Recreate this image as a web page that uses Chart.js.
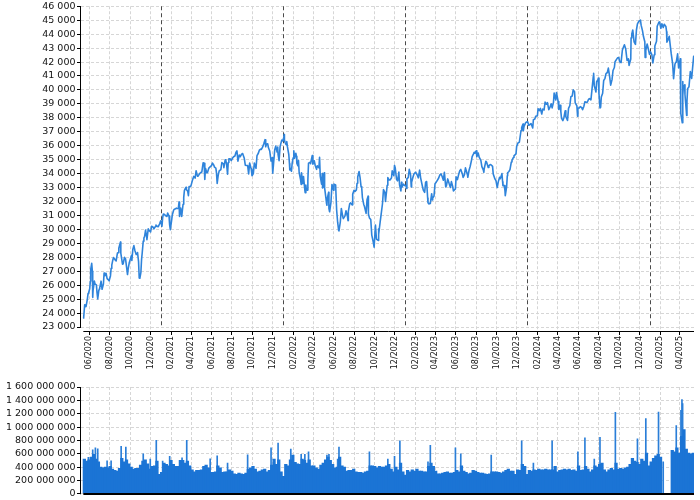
<!DOCTYPE html>
<html><head><meta charset="utf-8">
<script src="https://cdn.jsdelivr.net/npm/chart.js@4.4.1/dist/chart.umd.min.js"></script>
<style>
html,body{margin:0;padding:0;background:#fff;}
#wrap{position:relative;width:700px;height:500px;}
#c1{position:absolute;left:0;top:0;}
#c2{position:absolute;left:0;top:375px;}
</style></head><body>
<div id="wrap">
<canvas id="c1" width="700" height="375"></canvas>
<canvas id="c2" width="700" height="125"></canvas>
</div>
<script>
// ---- price closes by year: [MM-DD, close] ----
const dow2020 = [
['05-14',23625],['05-15',23685],['05-18',24597],['05-20',24576],['05-22',24465],['05-26',24995],['05-28',25400],['05-29',25383],
['06-02',25742],['06-04',26281],['06-05',27111],['06-08',27572],['06-10',26990],['06-11',25128],['06-12',25606],['06-16',26290],['06-18',26080],['06-22',26025],['06-24',25445],['06-26',25016],['06-29',25596],
['07-01',25734],['07-02',25827],['07-06',26287],['07-09',25706],['07-13',26086],['07-15',26870],['07-17',26672],['07-21',26840],['07-24',26470],['07-28',26379],['07-30',26313],
['08-03',26664],['08-05',27202],['08-07',27433],['08-10',27791],['08-12',27977],['08-14',27931],['08-18',27778],['08-20',27739],['08-24',28308],['08-26',28332],['08-28',28654],
['09-02',29100],['09-03',28292],['09-08',27501],['09-10',27534],['09-14',27993],['09-17',27902],['09-21',27148],['09-23',26763],['09-25',27174],['09-28',27584],
['10-01',27817],['10-05',28149],['10-06',27773],['10-09',28587],['10-12',28838],['10-15',28494],['10-19',28195],['10-21',28211],['10-23',28336],['10-26',27685],['10-28',26520],['10-30',26502],
['11-02',26925],['11-04',27847],['11-06',28323],['11-09',29158],['11-11',29398],['11-13',29480],['11-16',29950],['11-19',29483],['11-20',29263],['11-24',30046],['11-27',29910],
['12-01',29823],['12-04',30218],['12-08',30174],['12-11',30046],['12-15',30199],['12-17',30303],['12-21',30216],['12-24',30199],['12-28',30404],['12-31',30606]
];
const dow2021 = [
['01-04',30223],['01-06',30829],['01-08',31098],['01-12',31068],['01-14',30991],['01-19',30930],['01-21',31176],['01-25',30960],['01-27',30303],['01-29',29983],
['02-02',30687],['02-04',31055],['02-08',31385],['02-10',31438],['02-12',31458],['02-16',31523],['02-18',31493],['02-22',31522],['02-24',31962],['02-25',31402],['02-26',30932],
['03-01',31535],['03-04',30924],['03-08',31802],['03-10',32298],['03-12',32779],['03-15',32953],['03-17',33015],['03-18',32862],['03-22',32731],['03-24',32420],['03-26',33072],['03-30',33067],
['04-01',33153],['04-05',33527],['04-09',33801],['04-13',33677],['04-16',34200],['04-20',33821],['04-22',33815],['04-26',33981],['04-29',34060],
['05-03',34113],['05-07',34778],['05-10',34743],['05-12',33587],['05-14',34382],['05-18',34060],['05-20',34084],['05-24',34393],['05-27',34465],
['06-01',34575],['06-04',34756],['06-08',34599],['06-10',34466],['06-14',34393],['06-16',34033],['06-18',33290],['06-21',33876],['06-24',34196],['06-29',34292],
['07-02',34786],['07-07',34681],['07-08',34421],['07-12',34996],['07-14',34933],['07-16',34687],['07-19',33962],['07-21',34798],['07-23',35061],['07-27',35058],['07-30',34935],
['08-03',35116],['08-06',35209],['08-10',35264],['08-13',35515],['08-16',35625],['08-19',34894],['08-23',35336],['08-26',35213],['08-30',35399],
['09-02',35443],['09-07',35100],['09-10',34607],['09-14',34577],['09-17',34584],['09-20',33970],['09-23',34764],['09-28',34300],['09-30',33844],
['10-04',34002],['10-07',34754],['10-12',34378],['10-15',35295],['10-19',35458],['10-22',35677],['10-26',35757],['10-28',35730],
['11-01',35913],['11-04',36124],['11-08',36432],['11-10',35922],['11-12',36100],['11-16',36142],['11-18',35870],['11-22',35620],['11-26',34899],['11-29',35136],
['12-01',34022],['12-03',34580],['12-07',35720],['12-10',35971],['12-14',35545],['12-16',35898],['12-17',35365],['12-20',34932],['12-23',35950],['12-28',36398],['12-31',36338]
];
const dow2022 = [
['01-03',36585],['01-04',36800],['01-05',36408],['01-07',36232],['01-10',36068],['01-12',36290],['01-14',35912],['01-18',35369],['01-20',34715],['01-21',34265],['01-24',34365],['01-26',34168],['01-28',34725],
['01-31',35132],['02-02',35629],['02-04',35090],['02-08',35463],['02-10',35241],['02-11',34738],['02-14',34566],['02-16',34935],['02-18',34079],['02-22',33597],['02-24',33224],['02-25',34059],
['03-01',33294],['03-03',33795],['03-07',32818],['03-08',32632],['03-10',33174],['03-11',32944],['03-14',32818],['03-16',33544],['03-18',34755],['03-22',34808],['03-24',34707],['03-29',35294],['03-31',34678],
['04-04',34922],['04-07',34583],['04-11',34308],['04-13',34565],['04-18',34412],['04-20',35161],['04-22',33811],['04-26',33240],['04-28',34000],['04-29',32977],
['05-02',33062],['05-04',34061],['05-05',32998],['05-09',32246],['05-11',31834],['05-12',31730],['05-13',32197],['05-17',32655],['05-18',31490],['05-20',31262],['05-24',31929],['05-27',33213],
['06-01',32813],['06-02',33248],['06-07',33180],['06-10',31393],['06-13',30516],['06-16',29927],['06-17',29889],['06-21',30530],['06-24',31501],['06-28',30947],['06-30',30775],
['07-05',30968],['07-08',31338],['07-12',30982],['07-14',30630],['07-15',31289],['07-19',31827],['07-22',31899],['07-26',31761],['07-28',32530],
['08-01',32798],['08-04',32727],['08-08',32833],['08-10',33309],['08-12',33761],['08-16',34152],['08-19',33706],['08-22',33064],['08-24',32970],['08-26',32283],['08-30',31791],
['09-01',31656],['09-06',31145],['09-09',32152],['09-12',32381],['09-13',31105],['09-16',30822],['09-20',30706],['09-23',29590],['09-27',29135],['09-30',28726],
['10-04',30317],['10-07',29297],['10-12',29210],['10-13',30039],['10-14',29635],['10-18',30523],['10-21',31083],['10-25',31837],['10-28',32862],
['11-01',32653],['11-03',32001],['11-08',33161],['11-10',33716],['11-14',33537],['11-17',33547],['11-21',33700],['11-23',34195],['11-28',33850],['11-30',34590],
['12-02',34430],['12-06',33597],['12-09',33477],['12-13',34108],['12-15',33203],['12-19',32757],['12-21',33377],['12-22',33027],['12-27',33241],['12-30',33147]
];
const dow2023 = [
['01-03',33136],['01-05',32930],['01-06',33631],['01-10',33704],['01-13',34303],['01-17',33910],['01-19',33045],['01-20',33375],['01-24',33734],['01-27',33978],['01-31',34086],
['02-02',34054],['02-06',33891],['02-09',33699],['02-13',34246],['02-16',33697],['02-21',33130],['02-24',32817],['02-28',32657],
['03-03',33391],['03-06',33432],['03-09',32254],['03-10',31910],['03-13',31820],['03-15',31875],['03-17',31862],['03-21',32560],['03-23',32105],['03-24',32237],['03-28',32394],['03-31',33274],
['04-04',33403],['04-06',33485],['04-11',33685],['04-14',33887],['04-18',33977],['04-21',33809],['04-25',33531],['04-28',34098],
['05-02',33051],['05-04',33128],['05-08',33619],['05-12',33301],['05-16',33012],['05-19',33427],['05-23',33056],['05-25',32764],['05-31',32908],
['06-02',33763],['06-06',33573],['06-09',33877],['06-13',34212],['06-16',34299],['06-21',33952],['06-23',33727],['06-27',33927],['06-30',34408],
['07-06',33922],['07-07',33735],['07-11',34262],['07-14',34509],['07-18',34952],['07-20',35225],['07-24',35411],['07-26',35520],['07-28',35459],
['08-01',35631],['08-03',35216],['08-07',35474],['08-10',35176],['08-15',34946],['08-18',34501],['08-22',34289],['08-24',34099],['08-25',34347],['08-30',34890],
['09-01',34838],['09-06',34443],['09-08',34577],['09-12',34646],['09-15',34618],['09-19',34518],['09-21',33964],['09-26',33619],['09-29',33508],
['10-03',33002],['10-06',33408],['10-10',33740],['10-12',33631],['10-17',33998],['10-19',33415],['10-20',33127],['10-24',33141],['10-26',32785],['10-27',32418],['10-31',33053],
['11-02',33839],['11-03',34061],['11-07',34153],['11-10',34283],['11-14',34828],['11-16',34945],['11-20',35151],['11-22',35273],['11-28',35417],['11-30',35951],
['12-04',36204],['12-08',36248],['12-13',37090],['12-15',37305],['12-19',37558],['12-20',37083],['12-22',37385],['12-27',37657],['12-29',37690]
];
const dow2024 = [
['01-02',37715],['01-05',37466],['01-09',37525],['01-12',37593],['01-17',37267],['01-19',37863],['01-23',37906],['01-26',38109],['01-31',38150],
['02-02',38654],['02-06',38521],['02-09',38672],['02-13',38273],['02-16',38628],['02-20',38564],['02-23',39131],['02-27',38972],
['03-01',39087],['03-05',38585],['03-08',38723],['03-12',39005],['03-15',38715],['03-19',39111],['03-21',39781],['03-26',39282],['03-28',39807],
['04-02',39170],['04-04',38597],['04-08',38892],['04-10',38462],['04-12',37983],['04-16',37799],['04-19',37986],['04-23',38504],['04-25',38086],['04-30',37816],
['05-03',38676],['05-07',38884],['05-10',39513],['05-14',39558],['05-17',40004],['05-21',39872],['05-23',39065],['05-28',38853],['05-30',38112],['05-31',38686],
['06-04',38712],['06-07',38799],['06-11',38747],['06-14',38589],['06-18',38835],['06-21',39150],['06-25',39112],['06-28',39119],
['07-02',39332],['07-05',39376],['07-09',39291],['07-12',40001],['07-16',40954],['07-17',41198],['07-19',40288],['07-24',39854],['07-26',40589],['07-30',40743],['07-31',40843],
['08-02',39737],['08-05',38703],['08-07',38763],['08-09',39498],['08-13',39766],['08-16',40660],['08-20',40835],['08-23',41175],['08-27',41250],['08-30',41563],
['09-03',40937],['09-06',40345],['09-10',40737],['09-13',41394],['09-17',41606],['09-19',42025],['09-24',42208],['09-27',42313],['09-30',42330],
['10-03',42012],['10-07',41955],['10-11',42864],['10-14',43065],['10-17',43239],['10-21',42932],['10-23',42514],['10-25',42114],['10-29',42233],['10-31',41763],
['11-05',42222],['11-06',43729],['11-08',43989],['11-11',44293],['11-15',43445],['11-19',43269],['11-22',44297],['11-25',44736],['11-29',44911],
['12-04',45014],['12-06',44643],['12-10',44248],['12-13',43828],['12-17',43450],['12-18',42327],['12-20',42840],['12-24',43297],['12-27',42992],['12-31',42544]
];
const dow2025 = [
['01-03',42732],['01-07',42528],['01-10',41938],['01-14',42518],['01-16',43153],['01-21',43488],['01-23',44565],['01-28',44850],['01-30',44882],
['02-03',44422],['02-06',44747],['02-10',44470],['02-13',44711],['02-18',44556],['02-20',44176],['02-21',43428],['02-25',43621],['02-28',43841],
['03-03',43191],['03-06',42579],['03-10',41912],['03-13',40813],['03-17',41841],['03-19',41964],['03-21',41985],['03-25',42587],['03-28',41583],['03-31',42001],
['04-02',42225],['04-03',40545],['04-04',38315],['04-08',37645],['04-09',40608],['04-10',39594],['04-11',40212],['04-15',40368],['04-16',39669],['04-21',38170],['04-22',39187],['04-24',40093],['04-28',40228],
['05-02',41317],['05-06',40830],['05-08',41368],['05-12',42410],['05-13',42140]
];

// ---- weekly volume (millions), weeks starting on volumeFirstWeek ----
const volumeFirstWeek = '2020-05-14';
const vol2020 = [520,490,510, 550,590,520,480, 400,390,400,390,410, 370,350,340,380, 530,480,510,450, 400,370,380,380,430, 490,510,450,370, 410,420,490,290,320];
const vol2021 = [460,440,420,500, 440,410,410,500, 500,460,490,420, 360,330,350,350,360, 410,430,390,320, 320,330,420,390, 320,330,330,360,340, 300,290,310,300, 290,310,370,390,410, 370,330,340,360, 370,330,350,430, 520,440,510,330,260];
const vol2022 = [440,420,510,580, 470,450,440,520, 500,460,510,420,420, 390,370,430,460, 510,550,500,440, 390,400,550,420,400, 340,350,350,370, 330,320,320,310, 330,340,420,420,410, 390,410,400,400, 420,440,370,330, 400,360,460,330,280];
const vol2023 = [350,330,360,340, 370,340,340,330, 330,410,460,410,340, 300,300,310,320, 330,310,310,320, 350,330,420,340,320, 300,310,350,340, 320,310,310,300,290, 300,330,330,330, 320,310,330,350, 370,340,340,290,360, 350,440,410,290];
const vol2024 = [350,340,360,350, 370,360,360,370,360, 360,360,410,330, 350,360,370,360, 370,350,360,340,420, 350,360,410,370, 330,360,420,400, 440,460,360,330,360, 380,360,460,370, 380,370,390,400,440, 530,490,470,440, 520,490,610,420];
const vol2025 = [480,530,570,590,550, null,null,null,null, 650,630,690,610, 860,960,670,610, 600,610];
// single-day volume peaks (date, millions)
const volumeSpikes = [
['2020-05-29',545],['2020-06-11',660],['2020-06-19',690],['2020-06-26',675],['2020-07-24',495],['2020-08-05',495],
['2020-09-04',710],['2020-09-18',700],['2020-11-09',600],['2020-11-30',520],['2020-12-18',800],['2021-01-06',490],
['2021-01-27',560],['2021-03-05',540],['2021-03-19',800],['2021-05-28',525],['2021-06-18',570],['2021-07-19',460],
['2021-09-17',585],['2021-11-26',690],['2021-12-17',760],['2022-01-24',670],['2022-01-31',560],['2022-02-24',590],
['2022-03-07',590],['2022-03-18',630],['2022-05-12',580],['2022-05-18',590],['2022-06-13',520],['2022-06-17',700],
['2022-09-16',630],['2022-11-10',520],['2022-11-30',560],['2022-12-16',795],['2023-03-10',480],['2023-03-17',725],
['2023-05-31',690],['2023-06-16',600],['2023-09-15',580],['2023-12-15',795],['2024-01-19',460],['2024-03-15',795],
['2024-05-31',630],['2024-06-21',840],['2024-07-19',520],['2024-08-05',845],['2024-09-20',1220],['2024-11-25',825],
['2024-12-20',1125],['2025-01-27',1225],['2025-02-10',480],['2025-03-21',1020],['2025-04-04',1250],['2025-04-07',1410],
['2025-04-09',1350]
];

// ---- axes ----
const xTickLabels = ['06/2020','08/2020','10/2020','12/2020','02/2021','04/2021','06/2021','08/2021','10/2021','12/2021',
'02/2022','04/2022','06/2022','08/2022','10/2022','12/2022','02/2023','04/2023','06/2023','08/2023','10/2023','12/2023',
'02/2024','04/2024','06/2024','08/2024','10/2024','12/2024','02/2025','04/2025'];
const priceTickValues = [23000,24000,25000,26000,27000,28000,29000,30000,31000,32000,33000,34000,35000,36000,37000,38000,39000,40000,41000,42000,43000,44000,45000,46000];
const volumeTickValues = [0,200000000,400000000,600000000,800000000,1000000000,1200000000,1400000000,1600000000];
const yearMarkers = ['2021-01-01','2022-01-01','2023-01-01','2024-01-01','2025-01-01'];
const axisStart = '2020-05-07', axisEnd = '2025-05-13';

const DAY = 86400000;
const toTs = s => { const [y,m,d] = s.split('-').map(Number); return Date.UTC(y, m-1, d); };
const monthTs = l => { const [m,y] = l.split('/').map(Number); return Date.UTC(y, m-1, 1); };
const fmt = v => String(Math.round(v)).replace(/\B(?=(\d{3})+(?!\d))/g, ' ');
const labelOf = v => { const d = new Date(v); return String(d.getUTCMonth()+1).padStart(2,'0') + '/' + d.getUTCFullYear(); };

const pricePoints = [];
[[2020,dow2020],[2021,dow2021],[2022,dow2022],[2023,dow2023],[2024,dow2024],[2025,dow2025]].forEach(([yr, arr]) =>
  arr.forEach(([md, v]) => pricePoints.push({x: toTs(yr + '-' + md), y: v})));

const weekPoints = [];
{ let t = toTs(volumeFirstWeek);
  [vol2020, vol2021, vol2022, vol2023, vol2024, vol2025].flat().forEach(v => {
    weekPoints.push({x: t + 3 * DAY, y: v == null ? null : v * 1e6}); t += 7 * DAY; }); }
const spikePoints = volumeSpikes.map(([d, v]) => ({x: toTs(d), y: v * 1e6}));

const firstTs = pricePoints[0].x, lastTs = pricePoints[pricePoints.length-1].x;
const FONT = 'DejaVu Sans';
const GRID = '#d6d6d6';

const axisLines = {
  id: 'axisLines',
  beforeDatasetsDraw(chart, args, o) {
    if (!o.markers) return;
    const {ctx, scales: {x, y}} = chart;
    ctx.save(); ctx.strokeStyle = '#4a4a4a'; ctx.lineWidth = 1; ctx.setLineDash([4, 3]);
    const yt = y.getPixelForValue(o.yTop), yb = y.getPixelForValue(o.yBottom);
    o.markers.forEach(d => { const px = Math.round(x.getPixelForValue(toTs(d))) + 0.5;
      ctx.beginPath(); ctx.moveTo(px, yt); ctx.lineTo(px, yb); ctx.stroke(); });
    ctx.restore();
  },
  afterDraw(chart, args, o) {
    const {ctx, chartArea, scales: {x, y}} = chart;
    ctx.save(); ctx.strokeStyle = '#000'; ctx.setLineDash([]);
    ctx.lineWidth = 1;
    const ax = Math.round(chartArea.left) - 0.5;
    ctx.beginPath(); ctx.moveTo(ax, y.getPixelForValue(o.yTop)); ctx.lineTo(ax, y.getPixelForValue(o.yBottom) + 0.5); ctx.stroke();
    ctx.lineWidth = o.xWidth;
    const by = Math.round(chartArea.bottom) + (o.xWidth % 2 ? 0.5 : 0);
    ctx.beginPath(); ctx.moveTo(x.getPixelForValue(firstTs), by); ctx.lineTo(x.getPixelForValue(lastTs), by); ctx.stroke();
    ctx.restore();
  }
};

const xTickList = xTickLabels.map(l => ({value: monthTs(l)}));

new Chart(document.getElementById('c1'), {
  type: 'line',
  data: { datasets: [{ data: pricePoints, borderColor: '#2f84db', borderWidth: 1.6, pointRadius: 0, tension: 0, borderJoinStyle: 'round' }] },
  options: {
    responsive: false, animation: false, events: [],
    layout: { padding: { top: 5, right: 6, left: 0, bottom: 0 } },
    plugins: { legend: { display: false }, tooltip: { enabled: false },
      axisLines: { markers: yearMarkers, yTop: 46000, yBottom: 23000, xWidth: 1 } },
    scales: {
      x: { type: 'linear', min: toTs(axisStart), max: toTs(axisEnd), offset: false,
        afterBuildTicks: s => { s.ticks = xTickList.map(t => ({value: t.value})); },
        afterFit: s => { s.height = 44; },
        ticks: { autoSkip: false, minRotation: 90, maxRotation: 90, padding: 1, color: '#111',
          font: { family: FONT, size: 8, lineHeight: 1 }, callback: v => labelOf(v) },
        grid: { color: GRID, lineWidth: 1, drawTicks: true, tickLength: 4, tickColor: '#000', tickWidth: 1 },
        border: { display: false, dash: [3, 2] } },
      y: { type: 'linear', min: 22714.3, max: 46000,
        afterBuildTicks: s => { s.ticks = priceTickValues.map(v => ({value: v})); },
        afterFit: s => { s.width = 81; },
        ticks: { autoSkip: false, padding: 1.5, color: '#111', font: { family: FONT, size: 9.5, lineHeight: 1 }, callback: v => fmt(v) },
        grid: { color: GRID, lineWidth: 1, drawTicks: true, tickLength: 4, tickColor: '#000', tickWidth: 1 },
        border: { display: false, dash: [3, 2] } }
    }
  },
  plugins: [axisLines]
});

new Chart(document.getElementById('c2'), {
  type: 'bar',
  data: { datasets: [
    { data: weekPoints, backgroundColor: '#1b74d5', borderWidth: 0, barThickness: 2.6, grouped: false },
    { data: spikePoints, backgroundColor: '#2a7ed8', borderWidth: 0, barThickness: 1, grouped: false }
  ] },
  options: {
    responsive: false, animation: false, events: [],
    layout: { padding: { top: 12, right: 6, left: 0, bottom: 0 } },
    plugins: { legend: { display: false }, tooltip: { enabled: false },
      axisLines: { yTop: 1600000000, yBottom: 0, xWidth: 2 } },
    scales: {
      x: { type: 'linear', min: toTs(axisStart), max: toTs(axisEnd), offset: false,
        afterBuildTicks: s => { s.ticks = xTickList.map(t => ({value: t.value})); },
        afterFit: s => { s.height = 6; },
        ticks: { display: false },
        grid: { color: GRID, lineWidth: 1, drawTicks: false, offset: false },
        border: { display: false, dash: [3, 2] } },
      y: { type: 'linear', min: 0, max: 1600000000,
        afterBuildTicks: s => { s.ticks = volumeTickValues.map(v => ({value: v})); },
        afterFit: s => { s.width = 81; },
        ticks: { autoSkip: false, padding: 1.5, color: '#111', font: { family: FONT, size: 9.5, lineHeight: 1 }, callback: v => fmt(v) },
        grid: { color: GRID, lineWidth: 1, drawTicks: true, tickLength: 4, tickColor: '#000', tickWidth: 1 },
        border: { display: false, dash: [3, 2] } }
    }
  },
  plugins: [axisLines]
});
</script></body></html>
